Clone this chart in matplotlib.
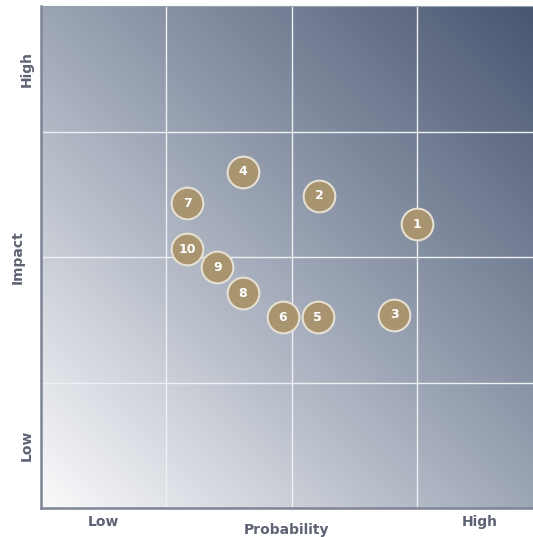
import matplotlib.pyplot as plt
import numpy as np
from matplotlib.colors import LinearSegmentedColormap

# risk ids and their position on the matrix (probability, impact)
risk_ids = ["1", "2", "3", "4", "5", "6", "7", "8", "9", "10"]
probability = [3.0, 2.22, 2.82, 1.61, 2.21, 1.93, 1.17, 1.61, 1.41, 1.17]
impact = [2.26, 2.49, 1.54, 2.68, 1.52, 1.52, 2.43, 1.71, 1.92, 2.06]

x_ticks = [0.5, 3.5]
x_tick_labels = ["Low", "High"]
y_ticks = [0.5, 3.5]
y_tick_labels = ["Low", "High"]

fig = plt.figure(figsize=(5.33, 5.37), dpi=100)
ax = fig.add_axes([40.5 / 533, 29 / 537, (533 - 40.5) / 533, 502 / 537])

# diagonal background gradient, white bottom-left to slate top-right
cmap = LinearSegmentedColormap.from_list("bg", ["#fafafb", "#9ca5b5", "#485470"])
gx, gy = np.meshgrid(np.linspace(0, 4, 300), np.linspace(0, 4, 300))
ax.imshow((gx + gy) / 8, extent=[0, 4, 0, 4], origin="lower", cmap=cmap,
          aspect="auto", zorder=0, interpolation="bilinear")

for v in [1, 2, 3]:
    ax.axvline(v, color="#eef0f3", lw=1.0, zorder=1)
    ax.axhline(v, color="#eef0f3", lw=1.0, zorder=1)

ax.scatter(probability, impact, s=520, color="#a8946f", edgecolors="#e6e0d2",
           linewidths=1.5, zorder=3)
for i in range(len(risk_ids)):
    ax.text(probability[i], impact[i], risk_ids[i], color="white", fontsize=9,
            fontweight="bold", ha="center", va="center", zorder=4)

ax.set_xlim(0, (533 - 40.5) / 125.5)
ax.set_ylim(0, 4)
ax.set_xticks(x_ticks)
ax.set_xticklabels(x_tick_labels)
ax.set_yticks(y_ticks)
ax.set_yticklabels(y_tick_labels, rotation=90, va="center")
ax.tick_params(length=0, labelsize=10, labelcolor="#5d6373", pad=5)
for lab in ax.get_xticklabels() + ax.get_yticklabels():
    lab.set_fontweight("semibold")

ax.set_xlabel("Probability", fontsize=10, color="#5d6373", fontweight="semibold", labelpad=-4)
ax.set_ylabel("Impact", fontsize=10, color="#5d6373", fontweight="semibold", labelpad=-4)

ax.spines["right"].set_visible(False)
ax.spines["top"].set_color("#9aa0ad")
ax.spines["top"].set_linewidth(0.8)
for s in ["left", "bottom"]:
    ax.spines[s].set_color("#7d8494")
    ax.spines[s].set_linewidth(1.8)

fig.savefig("out.png", dpi=100)
